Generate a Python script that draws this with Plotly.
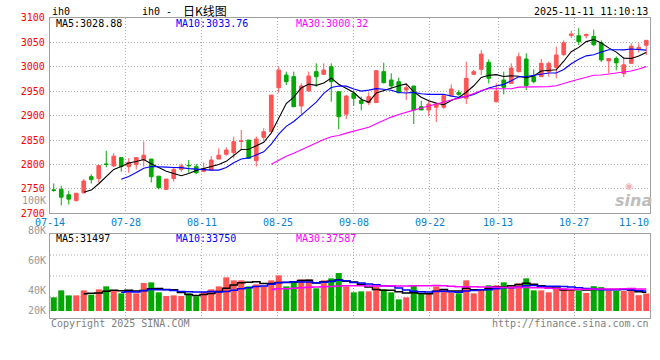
import plotly.graph_objects as go
import pandas as pd

# ---------------- data ----------------
DATES = ["07-14","07-15","07-16","07-17","07-18","07-21","07-22","07-23","07-24","07-25",
         "07-28","07-29","07-30","07-31","08-01","08-04","08-05","08-06","08-07","08-08",
         "08-11","08-12","08-13","08-14","08-15","08-18","08-19","08-20","08-21","08-22",
         "08-25","08-26","08-27","08-28","08-29","09-01","09-02","09-03","09-04","09-05",
         "09-08","09-09","09-10","09-11","09-12","09-15","09-16","09-17","09-18","09-19",
         "09-22","09-23","09-24","09-25","09-26","09-29","09-30","10-09","10-10","10-13",
         "10-14","10-15","10-16","10-17","10-20","10-21","10-22","10-23","10-24","10-27",
         "10-28","10-29","10-30","10-31","11-03","11-04","11-05","11-06","11-07","11-10"]

OPEN = [2748, 2749, 2738, 2726, 2742, 2775, 2771, 2801, 2797, 2814,
        2795.5, 2799.6, 2809, 2811, 2776, 2749, 2771, 2790, 2798.2, 2795.5,
        2786, 2788.7, 2811, 2821, 2824, 2847, 2850, 2807.8, 2855.5, 2867,
        2957, 2983, 2979.7, 2919.7, 2950.4, 2990, 2984.5, 3000, 2949, 2903,
        2945.6, 2931, 2926.5, 2926.5, 2990, 2972.9, 2969.5, 2952.4, 2960.6, 2918.3,
        2911.5, 2917, 2917, 2940.8, 2947, 2935.4, 2984.5, 2994.7, 3009, 2928.5,
        2972.9, 2966, 2990, 3015.9, 2979.7, 2979.7, 2990, 2998.8, 3025, 3064,
        3063.6, 3063.6, 3062, 3049, 3012, 3017, 2986, 3007, 3037, 3044]
HIGH = [2761, 2756, 2746, 2741, 2770, 2780, 2799, 2828, 2823, 2815,
        2812.6, 2814, 2847, 2811, 2776, 2770, 2795.5, 2802, 2809, 2801,
        2803.7, 2817, 2833, 2835, 2857, 2870.5, 2850, 2857, 2874, 2942,
        3000, 2990, 2990, 2966, 2990, 3007, 3007, 3007, 2949, 2942,
        2951, 2938.8, 2947.6, 2992, 3008.4, 2986.5, 2977.7, 2964.7, 2960.6, 2930.6,
        2930.6, 2923.8, 2940.8, 2964, 2952.4, 3010.4, 2993.3, 3034.3, 3015, 2966,
        2990, 3007, 3028.8, 3027.5, 2994.7, 3015.9, 3010.4, 3041, 3054, 3074,
        3079, 3068, 3076, 3054, 3017, 3021, 3020, 3048, 3048, 3055]
LOW = [2744, 2716, 2718, 2724, 2741, 2761, 2763, 2794, 2795, 2785,
       2783, 2790, 2795.5, 2763, 2749, 2749, 2765, 2785, 2783, 2780.5,
       2784, 2788.7, 2811, 2818, 2812.6, 2831, 2811, 2795.5, 2850, 2867,
       2947, 2962.6, 2917, 2903.3, 2949, 2959, 2983, 2928.5, 2872, 2893,
       2920, 2910.8, 2921.7, 2926, 2966, 2955.8, 2945.6, 2932, 2882.8, 2911.5,
       2899, 2887, 2913.5, 2940.8, 2940.8, 2923.8, 2983, 2983, 2966, 2927,
       2943.5, 2964.7, 2988.6, 2952.4, 2966, 2979.7, 2979.7, 2976.3, 3022, 3059,
       3044.5, 3058, 3042, 3010, 2987, 2993, 2979, 3006, 3029, 3024]
CLOSE = [2747, 2733, 2729, 2741, 2766, 2769, 2797.6, 2800, 2817, 2795.5,
         2804.4, 2814, 2819, 2775, 2752.5, 2770, 2790, 2797, 2797.5, 2783,
         2791.4, 2809, 2819, 2829.6, 2846.7, 2848, 2812.6, 2852, 2867, 2942,
         2993, 2969.5, 2918.3, 2960.6, 2981, 2979.7, 2993.3, 2969.5, 2897.8, 2940,
         2935.4, 2925, 2938.8, 2992, 2967.4, 2960.6, 2947, 2957.2, 2911.5, 2911.5,
         2923.8, 2923.8, 2940.8, 2954.5, 2943.5, 2976.3, 2990, 3026, 2976.3, 2950.4,
         2957.9, 2997.4, 3020.6, 2961.3, 2969.5, 3007, 3007, 3024, 3049, 3067,
         3051.3, 3066, 3045, 3014, 3017, 3008, 3004, 3042, 3039, 3054]
VOLUME = [22900, 34600, 26200, 26200, 34600, 27400, 36300, 41300, 34600, 29600,
          31800, 29600, 46900, 48000, 31300, 25100, 26200, 25100, 29600, 24600,
          31800, 36300, 41300, 56400, 51400, 51400, 41300, 44700, 41300, 51400,
          59700, 41300, 49700, 53000, 53000, 38000, 51400, 54700, 63600, 41300,
          31300, 32900, 32900, 41300, 36300, 31300, 19500, 22900, 43000, 29600,
          29600, 41300, 36300, 31300, 29600, 51400, 29600, 36300, 43000, 43000,
          48000, 41300, 46300, 54700, 34600, 34600, 31300, 38000, 38000, 36300,
          33500, 30200, 41600, 40000, 34000, 33500, 33500, 34600, 26500, 29300]

TICK_LABELS = ["07-14", "07-28", "08-11", "08-25", "09-08", "09-22", "10-13", "10-27", "11-10"]
PRICE_TICKS = [2700, 2750, 2800, 2850, 2900, 2950, 3000, 3050, 3100]
VOL_TICK_LABELS = ["100K", "80K", "60K", "40K", "20K"]
MA_PERIODS = [5, 10, 30]
MA_PRICE_TEXT = ["MA5:3028.88", "MA10:3033.76", "MA30:3000.32"]
MA_VOL_TEXT = ["MA5:31497", "MA10:33750", "MA30:37587"]
TITLE_CODE = "ih0"
TITLE_MAIN = "ih0 -"
TITLE_CN = "日K线图"
TIMESTAMP = "2025-11-11 11:10:13"
COPYRIGHT = "Copyright 2025 SINA.COM"
URL = "http://finance.sina.com.cn"

# ---------------- style ----------------
RED = "#FF5555"
GREEN = "#00A800"
MA_COLORS = ["#000000", "#0000FF", "#FF00FF"]
GRID = "#AAAAAA"
BORDER = "#A0A0A0"
MONO = "DejaVu Sans Mono"
W, H = 660, 360
PL, PR = 50, 650


def pxx(p):
    return (p - PL) / (PR - PL)


def pxy(p):
    return 1 - p / H


N = len(DATES)
x = list(range(N))
grid_x = [DATES.index(d) * N / (N - 1) - 0.5 for d in TICK_LABELS]

close_s = pd.Series(CLOSE)
vol_s = pd.Series(VOLUME)

fig = go.Figure()
fig.add_trace(go.Candlestick(
    x=x, open=OPEN, high=HIGH, low=LOW, close=CLOSE,
    increasing=dict(line=dict(color=RED, width=1), fillcolor=RED),
    decreasing=dict(line=dict(color=GREEN, width=1), fillcolor=GREEN),
    whiskerwidth=0, showlegend=False, hoverinfo="skip", xaxis="x", yaxis="y"))
for n, c in zip(MA_PERIODS, MA_COLORS):
    fig.add_trace(go.Scatter(x=x, y=close_s.rolling(n).mean(), mode="lines",
                             line=dict(color=c, width=1.1), showlegend=False,
                             hoverinfo="skip", xaxis="x", yaxis="y"))

vol_colors = [RED if c >= o else GREEN for o, c in zip(OPEN, CLOSE)]
fig.add_trace(go.Bar(x=x, y=VOLUME, width=0.8, marker=dict(color=vol_colors, line=dict(width=0)),
                     showlegend=False, hoverinfo="skip", xaxis="x2", yaxis="y2"))
for n, c in zip(MA_PERIODS, MA_COLORS):
    fig.add_trace(go.Scatter(x=x, y=vol_s.rolling(n).mean(), mode="lines",
                             line=dict(color=c, width=1.5, shape="hvh"), showlegend=False,
                             hoverinfo="skip", xaxis="x2", yaxis="y2"))

xcommon = dict(range=[-0.5, N - 0.5], tickvals=grid_x, showticklabels=False, ticks="",
               showgrid=True, gridcolor=GRID, griddash="1px,2px", gridwidth=1,
               showline=True, mirror=True, linecolor=BORDER, linewidth=1.2,
               zeroline=False, automargin=False, fixedrange=True)

fig.update_layout(
    width=W, height=H, template="none",
    margin=dict(l=PL, r=W - PR, t=0, b=0),
    paper_bgcolor="white", plot_bgcolor="white",
    showlegend=False, boxgap=0.3,
    xaxis=dict(domain=[0, 1], anchor="y", rangeslider=dict(visible=False), **xcommon),
    xaxis2=dict(domain=[0, 1], anchor="y2", **xcommon),
    yaxis=dict(domain=[pxy(213.3), pxy(17.9)], anchor="x", range=[2700, 3100],
               tickvals=PRICE_TICKS, ticktext=[str(t) for t in PRICE_TICKS],
               tickfont=dict(family=MONO, size=10, color="#FF0000"), ticks="",
               ticklabelstandoff=2,
               showgrid=True, gridcolor=GRID, griddash="1px,2px", gridwidth=1,
               showline=True, mirror=True, linecolor=BORDER, linewidth=1.2,
               zeroline=False, automargin=False, fixedrange=True),
    yaxis2=dict(domain=[pxy(318), pxy(234)], anchor="x2", range=[-11700, 129000],
                showticklabels=False, ticks="", showgrid=False,
                showline=True, mirror=True, linecolor=BORDER, linewidth=1.2,
                zeroline=False, automargin=False, fixedrange=True),
)

# volume panel horizontal grid (quarters of the panel)
for f in [0.25, 0.5, 0.75]:
    fig.add_shape(type="line", xref="x2 domain", yref="y2 domain", x0=0, x1=1, y0=f, y1=f,
                  line=dict(color=GRID, width=1, dash="1px,2px"), layer="below")

ann = []


def txt(text, xp, yp, color="#000000", size=10, family=MONO, anchor="left", xref="paper", xval=None):
    ann.append(dict(text=text, x=(xval if xval is not None else pxx(xp)), xref=xref,
                    y=pxy(yp), yref="paper", xanchor=anchor, yanchor="middle",
                    showarrow=False, font=dict(family=family, size=size, color=color),
                    borderpad=0))


# header
txt(TITLE_CODE, 50.5, 12)
txt(TITLE_MAIN, 141, 12)
txt(TITLE_CN, 182, 10.5, family="Noto Sans CJK SC", size=12)
txt(TIMESTAMP, 649, 11.5, anchor="right")

# MA texts
for t, c, xp in zip(MA_PRICE_TEXT, MA_COLORS, [54.5, 174.5, 294.5]):
    txt(t, xp, 24, color=c)
for t, c, xp in zip(MA_VOL_TEXT, MA_COLORS, [54.5, 174.5, 294.5]):
    txt(t, xp, 238.5, color=c)

# x labels
for i, (lab, gx) in enumerate(zip(TICK_LABELS, grid_x)):
    last = i == len(TICK_LABELS) - 1
    txt(lab, None, 222, color="#0A80D0", anchor="right" if last else "center",
        xref="paper" if last else "x", xval=1.0 if last else gx)

# volume labels
for lab, yp in zip(VOL_TICK_LABELS, [200.3, 230.7, 260.7, 290.3, 310.7]):
    txt(lab, 46.5, yp, color="#999999", anchor="right")

# footer
txt(COPYRIGHT, 49.5, 323.5, color="#808080")
txt(URL, 650, 323.5, color="#808080", anchor="right")

# watermark
ann.append(dict(text="<b><i>sina</i></b>", x=pxx(633), y=pxy(200), xref="paper", yref="paper",
                xanchor="center", yanchor="middle", showarrow=False,
                font=dict(family="DejaVu Sans", size=16, color="#BDBDBD")))
ann.append(dict(text="◉", x=pxx(629), y=pxy(186), xref="paper", yref="paper",
                xanchor="center", yanchor="middle", showarrow=False,
                font=dict(family="DejaVu Sans", size=9, color="#F2B0B0")))

fig.update_layout(annotations=ann)
fig.write_html("out.html", config={"displayModeBar": False},
               post_script="document.body.style.margin='0';")
